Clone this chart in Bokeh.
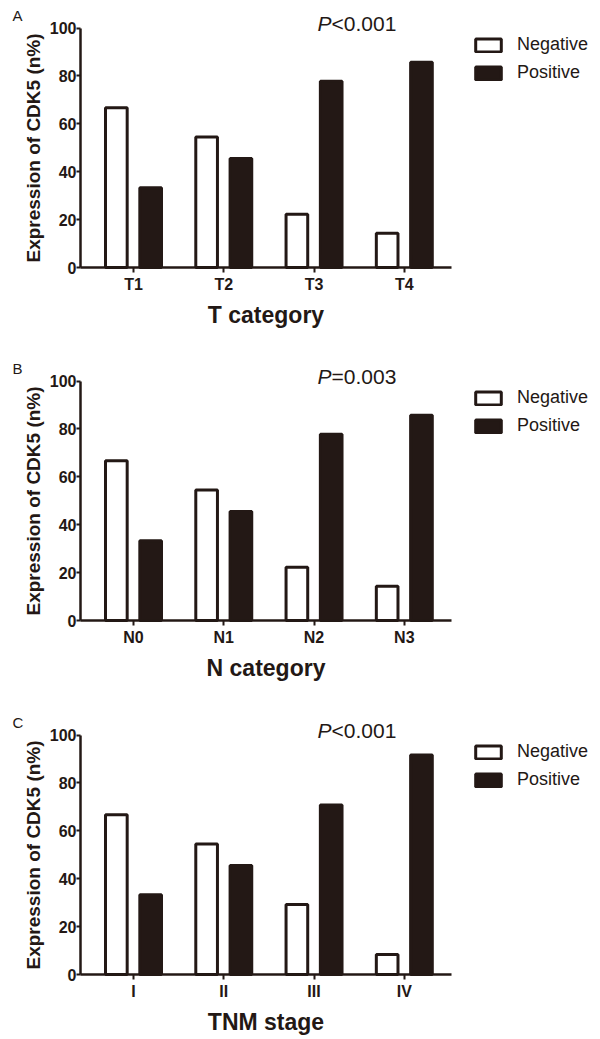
import numpy as np
from bokeh.plotting import figure
from bokeh.layouts import column
from bokeh.models import Range1d, FixedTicker, Label, Legend, LegendItem
from bokeh.embed import file_html
from bokeh.resources import INLINE

# ---- data ----
t_categories = ["T1", "T2", "T3", "T4"]
t_negative = [66.7, 54.5, 22.2, 14.3]
t_positive = [33.3, 45.5, 77.8, 85.7]

n_categories = ["N0", "N1", "N2", "N3"]
n_negative = [66.7, 54.5, 22.2, 14.3]
n_positive = [33.3, 45.5, 77.8, 85.7]

tnm_categories = ["I", "II", "III", "IV"]
tnm_negative = [66.7, 54.5, 29.2, 8.3]
tnm_positive = [33.3, 45.5, 70.8, 91.7]

y_ticks = [0, 20, 40, 60, 80, 100]
panel_letters = ["A", "B", "C"]
p_values = ["<0.001", "=0.003", "<0.001"]
x_titles = ["T category", "N category", "TNM stage"]
y_title = "Expression of CDK5 (n%)"
series_names = ["Negative", "Positive"]

INK = "#231815"
FONT = "Liberation Sans"

# ---- layout constants (pixels) ----
FIG_W = 600
PX_PER_X = 90.27      # pixels per category step
AXIS_X0 = 80          # page x of the y axis
CAT0_X = 133          # page x of first category
PX_PER_Y = 2.395      # pixels per percent


def make_panel(cats, neg, pos, letter, pval, xtitle, fig_h, zero_px):
    x = np.arange(len(cats))
    x_lo = -CAT0_X / PX_PER_X
    x_hi = (FIG_W - CAT0_X) / PX_PER_X
    y_hi = zero_px / PX_PER_Y
    y_lo = -(fig_h - zero_px) / PX_PER_Y
    ax_x = (AXIS_X0 - CAT0_X) / PX_PER_X
    ax_x_end = 3.52

    p = figure(frame_width=FIG_W, frame_height=fig_h,
               min_border_left=0, min_border_right=0,
               min_border_top=0, min_border_bottom=0,
               x_range=Range1d(x_lo, x_hi), y_range=Range1d(y_lo, y_hi),
               output_backend="svg", toolbar_location=None)
    p.outline_line_color = None
    p.xgrid.visible = False
    p.ygrid.visible = False
    p.background_fill_color = "white"
    p.border_fill_color = "white"

    r_neg = p.vbar(x=x - 0.19, top=neg, width=0.24, bottom=0,
                   fill_color="white", line_color=INK, line_width=3)
    r_pos = p.vbar(x=x + 0.19, top=pos, width=0.24, bottom=0,
                   fill_color=INK, line_color=INK, line_width=3)

    # axes (fixed inside the frame so that nothing is clipped)
    p.xaxis.ticker = FixedTicker(ticks=list(x))
    p.xaxis.major_label_overrides = {int(i): c for i, c in zip(x, cats)}
    p.xaxis.bounds = (ax_x, ax_x_end)
    p.xaxis.fixed_location = 0
    p.yaxis.ticker = FixedTicker(ticks=y_ticks)
    p.yaxis.bounds = (0, 100)
    p.yaxis.fixed_location = ax_x
    for ax in (p.xaxis, p.yaxis):
        ax.axis_line_width = 2.5
        ax.axis_line_color = INK
        ax.major_tick_line_width = 2
        ax.major_tick_line_color = INK
        ax.major_tick_out = 5
        ax.major_tick_in = 0
        ax.minor_tick_line_color = None
        ax.major_label_text_font = FONT
        ax.major_label_text_font_style = "bold"
        ax.major_label_text_font_size = "16px"
        ax.major_label_text_color = INK
        ax.axis_label_text_font = FONT
        ax.axis_label_text_font_style = "bold"
        ax.axis_label_text_color = INK
    p.yaxis.major_tick_out = 4
    p.xaxis.major_label_standoff = 3
    p.yaxis.major_label_standoff = 0
    p.xaxis.axis_label = xtitle
    p.xaxis.axis_label_text_font_size = "23px"
    p.xaxis.axis_label_standoff = 6
    p.yaxis.axis_label = y_title
    p.yaxis.axis_label_text_font_size = "19px"
    p.yaxis.axis_label_standoff = 3

    # panel letter
    p.add_layout(Label(x=(12 - CAT0_X) / PX_PER_X, y=100 + 13 / PX_PER_Y,
                       text=letter, text_font=FONT,
                       text_font_size="15px", text_color=INK,
                       text_baseline="alphabetic"))
    # p-value
    px = (317 - CAT0_X) / PX_PER_X
    py = 100 + 5 / PX_PER_Y
    p.add_layout(Label(x=px, y=py, text="P", text_font=FONT,
                       text_font_style="italic", text_font_size="21px",
                       text_color=INK, text_baseline="alphabetic"))
    p.add_layout(Label(x=px, y=py, x_offset=14, text=pval, text_font=FONT,
                       text_font_size="21px", text_color=INK,
                       text_baseline="alphabetic"))

    legend = Legend(items=[LegendItem(label=series_names[0], renderers=[r_neg]),
                           LegendItem(label=series_names[1], renderers=[r_pos])],
                    location=(472, 184 + (fig_h - zero_px)), orientation="vertical",
                    padding=0, margin=0, spacing=7,
                    glyph_width=32, glyph_height=16, label_height=16,
                    label_standoff=13, label_text_font=FONT,
                    label_text_font_size="18px", label_text_color=INK,
                    border_line_color=None, background_fill_alpha=0)
    p.add_layout(legend, "center")
    return p


p1 = make_panel(t_categories, t_negative, t_positive, panel_letters[0], p_values[0], x_titles[0], 355, 267)
p2 = make_panel(n_categories, n_negative, n_positive, panel_letters[1], p_values[1], x_titles[1], 353, 265)
p3 = make_panel(tnm_categories, tnm_negative, tnm_positive, panel_letters[2], p_values[2], x_titles[2], 330, 266)

layout = column(p1, p2, p3, spacing=0)
open("out.html", "w").write(file_html(layout, INLINE))
